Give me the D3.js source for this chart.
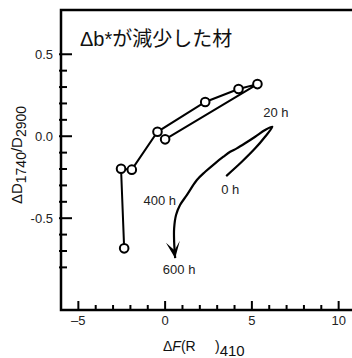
<!DOCTYPE html>
<html lang="ja">
<head>
<meta charset="UTF-8">
<title>Δb*が減少した材</title>
<script src="https://d3js.org/d3.v7.min.js"></script>
<style>
  body { margin: 0; background: #fff; }
  svg { display: block; }
</style>
</head>
<body>
<script>
const width = 352, height = 358;

// measured points, in time order
const pointX = [0.0, 5.32, 4.23, 2.31, -0.44, -1.92, -2.54, -2.36];
const pointY = [-0.019, 0.318, 0.288, 0.209, 0.027, -0.204, -0.198, -0.684];

// hand drawn trajectory (0 h -> 20 h -> 400 h -> 600 h)
const trackX = [3.52, 4.42, 5.19, 5.76, 6.18, 5.76, 5.19, 4.61, 4.13, 3.75, 3.36, 2.88, 2.31, 1.83, 1.25, 0.86, 0.63, 0.52, 0.52, 0.58];
const trackY = [-0.243, -0.156, -0.074, -0.003, 0.058, 0.038, -0.003, -0.043, -0.074, -0.095, -0.125, -0.165, -0.217, -0.267, -0.359, -0.420, -0.481, -0.562, -0.644, -0.744];

const timeLabels = ["0 h", "20 h", "400 h", "600 h"];
const timeLabelX = [3.23, 5.65, -1.25, -0.13];
const timeLabelY = [-0.353, 0.117, -0.42, -0.841];

const xMinorTicks = d3.range(-5, 11);
const xMajorTicks = [-5, 0, 5, 10];
const xTickLabels = ["\u20135", "0", "5", "10"];
const yMinorTicks = d3.range(-8, 6).map(d => d / 10);
const yMajorTicks = [-0.5, 0, 0.5];
const yTickLabels = ["-0.5", "0.0", "0.5"];

const x = d3.scaleLinear().domain([-6, 11]).range([61, 356]);
const y = d3.scaleLinear().domain([-1.06, 0.77]).range([310, 10]);

const font = "'Liberation Sans', Arial, sans-serif";

const svg = d3.select("body").append("svg")
    .attr("width", width)
    .attr("height", height);

svg.append("defs").append("marker")
    .attr("id", "arrow")
    .attr("viewBox", "-20 -10 22 20")
    .attr("refX", 0)
    .attr("refY", 0)
    .attr("markerWidth", 22)
    .attr("markerHeight", 20)
    .attr("markerUnits", "userSpaceOnUse")
    .attr("orient", "auto")
  .append("path")
    .attr("d", "M0,0 L-16,8 L-8,0 L-17,-6 Z")
    .attr("fill", "#000");

// frame (right side falls outside the window)
svg.append("rect")
    .attr("x", x(-6))
    .attr("y", y(0.77))
    .attr("width", x(11) - x(-6))
    .attr("height", y(-1.06) - y(0.77))
    .attr("fill", "none")
    .attr("stroke", "#000")
    .attr("stroke-width", 2.5);

// x ticks
const gx = svg.append("g").attr("transform", `translate(0,${y(-1.06)})`);
gx.selectAll("line")
    .data(xMinorTicks)
    .join("line")
    .attr("x1", d => x(d)).attr("x2", d => x(d))
    .attr("y1", 0)
    .attr("y2", d => xMajorTicks.includes(d) ? -9 : -5)
    .attr("stroke", "#000")
    .attr("stroke-width", 2);
gx.selectAll("text")
    .data(xMajorTicks)
    .join("text")
    .attr("x", d => x(d))
    .attr("y", 15)
    .attr("text-anchor", "middle")
    .attr("font-family", font)
    .attr("font-size", 13)
    .attr("fill", "#222")
    .text((d, i) => xTickLabels[i]);

// y ticks
const gy = svg.append("g").attr("transform", `translate(${x(-6)},0)`);
gy.selectAll("line")
    .data(yMinorTicks)
    .join("line")
    .attr("y1", d => y(d)).attr("y2", d => y(d))
    .attr("x1", -2)
    .attr("x2", d => yMajorTicks.some(t => Math.abs(t - d) < 1e-9) ? 11 : 6)
    .attr("stroke", "#000")
    .attr("stroke-width", 2);
gy.selectAll("text")
    .data(yMajorTicks)
    .join("text")
    .attr("x", -8)
    .attr("y", d => y(d))
    .attr("dy", "0.36em")
    .attr("text-anchor", "end")
    .attr("font-family", font)
    .attr("font-size", 13)
    .attr("fill", "#222")
    .text((d, i) => yTickLabels[i]);

// trajectory with arrow
const track = trackX.map((d, i) => [d, trackY[i]]);
svg.append("path")
    .datum(track)
    .attr("d", d3.line().x(d => x(d[0])).y(d => y(d[1])).curve(d3.curveCatmullRom.alpha(0.5)))
    .attr("fill", "none")
    .attr("stroke", "#000")
    .attr("stroke-width", 2.2)
    .attr("stroke-linejoin", "round")
    .attr("marker-end", "url(#arrow)");

svg.selectAll("text.time")
    .data(timeLabels)
    .join("text")
    .attr("class", "time")
    .attr("x", (d, i) => x(timeLabelX[i]))
    .attr("y", (d, i) => y(timeLabelY[i]))
    .attr("font-family", font)
    .attr("font-size", 13)
    .attr("fill", "#222")
    .text(d => d);

// measured series
const pts = pointX.map((d, i) => [d, pointY[i]]);
svg.append("path")
    .datum(pts)
    .attr("d", d3.line().x(d => x(d[0])).y(d => y(d[1])))
    .attr("fill", "none")
    .attr("stroke", "#000")
    .attr("stroke-width", 2);

svg.selectAll("circle")
    .data(pts)
    .join("circle")
    .attr("cx", d => x(d[0]))
    .attr("cy", d => y(d[1]))
    .attr("r", 4.3)
    .attr("fill", "#fff")
    .attr("stroke", "#000")
    .attr("stroke-width", 2);

// title inside the plot
svg.append("text")
    .attr("x", 80)
    .attr("y", 46)
    .attr("font-family", "'Liberation Sans', 'Noto Sans CJK JP', sans-serif")
    .attr("font-size", 20)
    .attr("fill", "#111")
    .text("Δb*が減少した材");

// x axis title
const xt = svg.append("text")
    .attr("x", 163)
    .attr("y", 351)
    .attr("font-family", font)
    .attr("font-size", 14)
    .attr("fill", "#111");
xt.append("tspan").text("Δ");
xt.append("tspan").attr("font-style", "italic").text("F");
xt.append("tspan").text("(R");
xt.append("tspan").attr("x", 215).text(")");
xt.append("tspan").attr("dy", 5).attr("font-size", 15).text("410");

// y axis title
const yt = svg.append("text")
    .attr("transform", "translate(22,155) rotate(-90)")
    .attr("text-anchor", "middle")
    .attr("font-family", font)
    .attr("font-size", 15)
    .attr("fill", "#111");
yt.append("tspan").text("ΔD");
yt.append("tspan").attr("dy", 4).attr("font-size", 14).text("1740");
yt.append("tspan").attr("dy", -4).text("/D");
yt.append("tspan").attr("dy", 4).attr("font-size", 14).text("2900");
</script>
</body>
</html>
